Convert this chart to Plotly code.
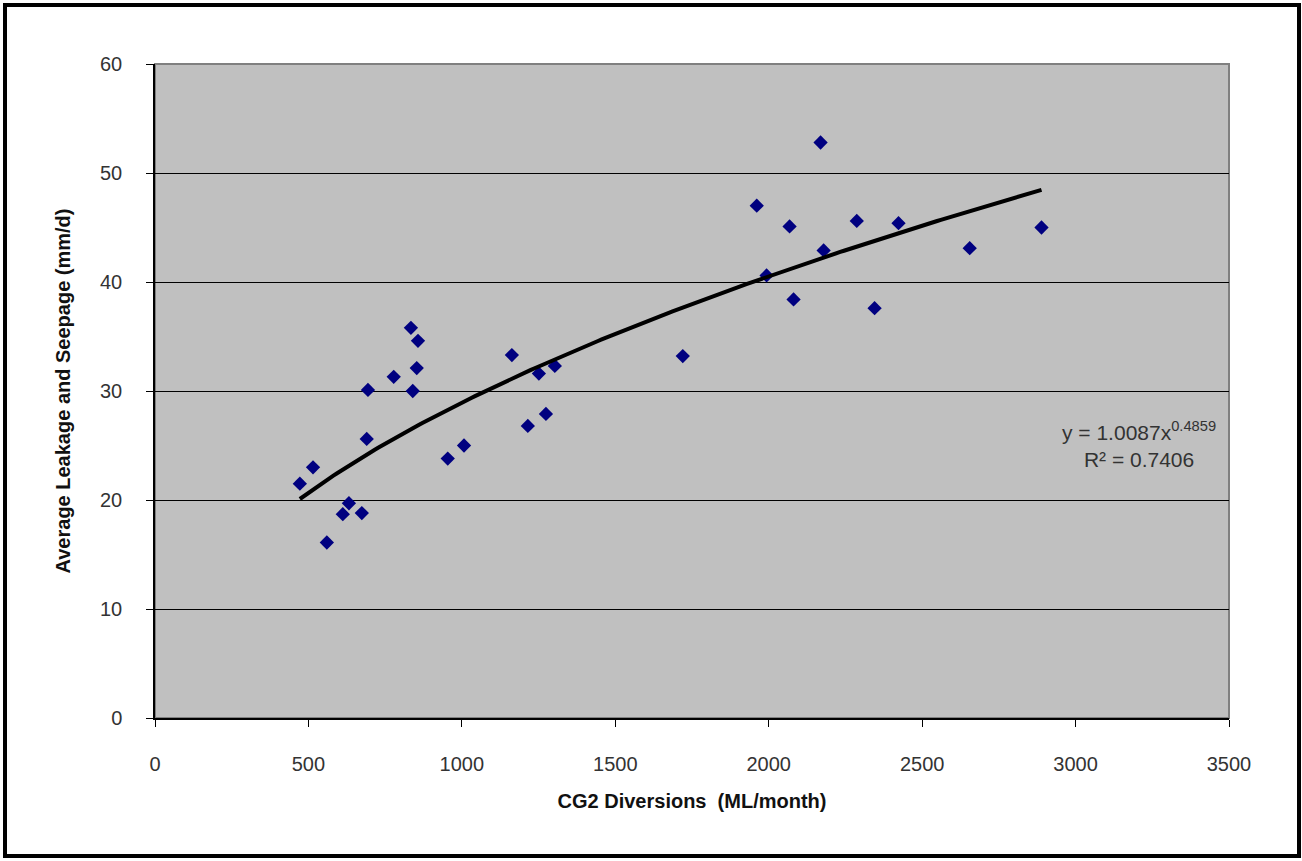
import numpy as np
import plotly.graph_objects as go

diversions = [472, 515, 560, 612, 632, 674, 690, 694, 778, 834, 840, 853, 857,
              954, 1007, 1163, 1215, 1251, 1274, 1303, 1720, 1961, 1993, 2068,
              2081, 2169, 2179, 2287, 2345, 2423, 2655, 2889]
leakage = [21.5, 23.0, 16.1, 18.7, 19.7, 18.8, 25.6, 30.1, 31.3, 35.8, 30.0, 32.1, 34.6,
           23.8, 25.0, 33.3, 26.8, 31.6, 27.9, 32.3, 33.2, 47.0, 40.6, 45.1,
           38.4, 52.8, 42.9, 45.6, 37.6, 45.4, 43.1, 45.0]

coef_a = 1.0087
coef_b = 0.4859
r2 = 0.7406

xt = np.linspace(min(diversions), max(diversions), 200)
yt = coef_a * xt ** coef_b

fig = go.Figure()
fig.add_trace(go.Scatter(x=diversions, y=leakage, mode="markers",
                         marker=dict(symbol="diamond", size=11, color="#000080",
                                     line=dict(width=0)),
                         showlegend=False))
fig.add_trace(go.Scatter(x=xt, y=yt, mode="lines",
                         line=dict(color="black", width=4),
                         showlegend=False))

W, H = 1302, 861
L, R, T, B = 155, 73, 64, 143
pw, ph = W - L - R, H - T - B

def px(x):
    return (x - L) / pw

def py(y):
    return (H - B - y) / ph

fig.add_shape(type="rect", xref="paper", yref="paper", x0=0, x1=1, y0=0, y1=1,
              line=dict(color="#808080", width=2), layer="below")
fig.add_shape(type="rect", xref="paper", yref="paper",
              x0=px(5), x1=px(1299), y0=py(856), y1=py(5),
              line=dict(color="black", width=4))

fig.add_annotation(x=px(1139), y=py(445), xref="paper", yref="paper",
                   xanchor="center", yanchor="middle",
                   text=f"y = {coef_a:.4f}x<sup>{coef_b:.4f}</sup><br>R² = {r2:.4f}",
                   showarrow=False, align="center",
                   font=dict(family="Liberation Sans, Arial", size=21, color="#333"))

fig.update_layout(
    width=W, height=H,
    margin=dict(l=L, r=R, t=T, b=B),
    paper_bgcolor="white", plot_bgcolor="#C0C0C0",
    font=dict(family="Liberation Sans, Arial", size=20, color="#333"),
    xaxis=dict(range=[0, 3500], dtick=500, tick0=0, showgrid=False, zeroline=False,
               showline=True, linecolor="black", linewidth=1.5,
               ticks="outside", ticklen=7, tickcolor="black", ticklabelstandoff=20,
               title=dict(text="<b>CG2 Diversions  (ML/month)</b>", standoff=20,
                          font=dict(size=20, color="#111"))),
    yaxis=dict(range=[0, 60], dtick=10, tick0=0, showgrid=True, gridcolor="black",
               gridwidth=1, zeroline=False,
               showline=True, linecolor="black", linewidth=1.5,
               ticks="outside", ticklen=7, tickcolor="black", ticklabelstandoff=20,
               title=dict(text="<b>Average Leakage and Seepage (mm/d)</b>", standoff=24,
                          font=dict(size=20, color="#111"))),
)

fig.write_html("out.html", config={"displayModeBar": False},
               post_script="document.body.style.margin='0';")
